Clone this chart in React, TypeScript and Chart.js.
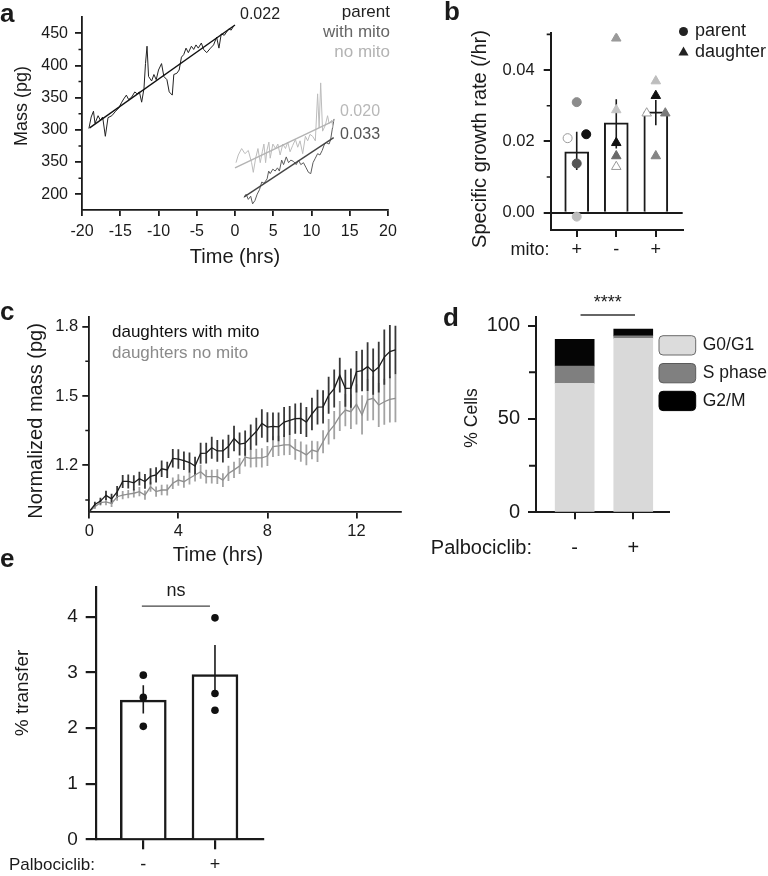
import React, { useEffect, useRef } from "react";
import { Chart, registerables } from "chart.js";

Chart.register(...registerables);

const W = 768;
const H = 876;
const FONT = "'Liberation Sans', Arial, Helvetica, sans-serif";
const INK = "#1a1a1a";

// ---------------- Panel a ----------------
const aParentTime = [-19.1, -18.8, -18.5, -18.3, -17.9, -17.6, -17.3, -16.95, -16.6, -16.1, -15.6, -15.2, -14.85, -14.55, -14.2, -13.9, -13.5, -13.1, -12.8, -12.5, -12.2, -11.9, -11.7, -11.5, -11.3, -10.9, -10.6, -10.3, -10.0, -9.6, -9.3, -8.9, -8.6, -8.2, -8.0, -7.6, -7.3, -7.0, -6.7, -6.4, -6.1, -5.7, -5.4, -5.1, -4.8, -4.4, -4.1, -3.7, -3.2, -2.8, -2.4, -2.1, -1.8, -1.4, -1.1, -0.8, -0.5, -0.2];
const aParentMass = [302, 320, 329, 310, 322, 315, 320, 290, 319, 322, 329, 334, 342, 348, 354, 347, 351, 359, 356, 359, 343, 364, 403, 430, 383, 376, 386, 378, 393, 403, 383, 378, 359, 354, 386, 388, 393, 413, 417, 427, 420, 430, 425, 432, 427, 435, 425, 420, 427, 432, 444, 427, 449, 447, 452, 457, 455, 461];
const aWithTime = [1.18, 1.45, 1.74, 2.05, 2.3, 2.6, 2.9, 3.2, 3.5, 3.8, 4.2, 4.4, 4.6, 4.95, 5.25, 5.55, 5.8, 6.1, 6.35, 6.7, 7.0, 7.3, 7.65, 8.0, 8.3, 8.6, 8.95, 9.3, 9.6, 9.9, 10.2, 10.5, 10.8, 11.1, 11.4, 11.7, 11.95, 12.3, 12.5, 12.7, 12.95];
const aWithMass = [195, 200, 192, 197, 185, 190, 200, 207, 219, 217, 224, 236, 232, 239, 236, 241, 236, 253, 246, 258, 249, 253, 251, 246, 253, 246, 249, 241, 234, 232, 249, 256, 263, 261, 268, 278, 280, 278, 285, 300, 317];
const aNoTime = [0.13, 0.43, 0.87, 1.3, 1.74, 2.17, 2.39, 2.7, 3.0, 3.3, 3.57, 3.78, 4.0, 4.17, 4.43, 4.6, 4.95, 5.3, 5.6, 5.9, 6.25, 6.6, 6.9, 7.2, 7.55, 7.9, 8.2, 8.5, 8.85, 9.2, 9.5, 9.8, 10.15, 10.5, 10.8, 11.0, 11.2, 11.45, 11.8, 12.1, 12.3, 12.65, 12.8];
const aNoMass = [249, 261, 271, 263, 268, 249, 234, 256, 271, 249, 266, 278, 249, 268, 281, 256, 278, 271, 278, 261, 278, 271, 281, 266, 276, 285, 273, 283, 263, 290, 283, 293, 290, 283, 356, 303, 373, 298, 307, 322, 310, 315, 303];
const aParentFitTime = [-19, 0];
const aParentFitMass = [303, 463];
const aWithFitTime = [1.2, 12.9];
const aWithFitMass = [196, 288];
const aNoFitTime = [0, 12.9];
const aNoFitMass = [241, 314];
const aXTicks = [-20, -15, -10, -5, 0, 5, 10, 15, 20];
const aXTickLabels = ["-20", "-15", "-10", "-5", "0", "5", "10", "15", "20"];
const aYTicks = [200, 250, 300, 350, 400, 450];
const aYTickLabels = ["200", "350", "300", "350", "400", "450"];
const aYMinor = [225, 275, 325, 375, 425];
const aLegend = ["parent", "with mito", "no mito"];
const aRates = ["0.022", "0.020", "0.033"];

// ---------------- Panel b ----------------
const bCategories = [1, 2, 3];
const bMitoLabels = ["+", "-", "+"];
const bMeans = [0.0171, 0.0252, 0.0283];
const bErrLow = [0.012, 0.018, 0.0245];
const bErrHigh = [0.0227, 0.0318, 0.0316];
const bParentX = [1, 0.77, 1.24, 1, 1];
const bParentY = [0.031, 0.0209, 0.022, 0.0138, -0.0011];
const bParentFill = ["#8c8c8c", "#ffffff", "#111111", "#555555", "#bdbdbd"];
const bParentEdge = ["#8c8c8c", "#9a9a9a", "#111111", "#555555", "#bdbdbd"];
const bDaughterX = [2, 2, 2, 2, 2, 3, 3, 2.77, 3.24, 3];
const bDaughterY = [0.0489, 0.0288, 0.0196, 0.0159, 0.0129, 0.0369, 0.0328, 0.0279, 0.0279, 0.0159];
const bDaughterFill = ["#9a9a9a", "#c4c4c4", "#111111", "#6a6a6a", "#ffffff", "#bdbdbd", "#111111", "#ffffff", "#7a7a7a", "#858585"];
const bDaughterEdge = ["#9a9a9a", "#c4c4c4", "#111111", "#6a6a6a", "#9a9a9a", "#bdbdbd", "#111111", "#9a9a9a", "#7a7a7a", "#858585"];
const bYTicks = [0, 0.02, 0.04];
const bYTickLabels = ["0.00", "0.02", "0.04"];
const bYMinor = [0.01, 0.03, 0.05];
const bLegend = ["parent", "daughter"];

// ---------------- Panel c ----------------
const cTime = [0, 0.25, 0.5, 0.75, 1, 1.25, 1.5, 1.75, 2, 2.25, 2.5, 2.75, 3, 3.25, 3.5, 3.75, 4, 4.25, 4.5, 4.75, 5, 5.25, 5.5, 5.75, 6, 6.25, 6.5, 6.75, 7, 7.25, 7.5, 7.75, 8, 8.25, 8.5, 8.75, 9, 9.25, 9.5, 9.75, 10, 10.25, 10.5, 10.75, 11, 11.25, 11.5, 11.75, 12, 12.25, 12.5, 12.75, 13, 13.25, 13.5, 13.75];
const cWithMito = [1.0, 1.03, 1.045, 1.07, 1.055, 1.085, 1.13, 1.13, 1.124, 1.142, 1.13, 1.152, 1.158, 1.185, 1.18, 1.23, 1.227, 1.22, 1.212, 1.197, 1.252, 1.253, 1.276, 1.262, 1.262, 1.282, 1.316, 1.292, 1.296, 1.322, 1.346, 1.381, 1.365, 1.368, 1.366, 1.387, 1.394, 1.402, 1.403, 1.387, 1.422, 1.452, 1.453, 1.503, 1.532, 1.59, 1.533, 1.534, 1.605, 1.61, 1.627, 1.605, 1.625, 1.668, 1.692, 1.699];
const cWithErr = [0, 0.012, 0.015, 0.02, 0.022, 0.025, 0.028, 0.03, 0.033, 0.03, 0.032, 0.035, 0.033, 0.036, 0.035, 0.04, 0.042, 0.04, 0.043, 0.04, 0.045, 0.045, 0.048, 0.047, 0.05, 0.05, 0.055, 0.05, 0.055, 0.055, 0.06, 0.062, 0.065, 0.06, 0.062, 0.065, 0.063, 0.065, 0.068, 0.065, 0.07, 0.075, 0.072, 0.08, 0.082, 0.075, 0.08, 0.085, 0.09, 0.09, 0.105, 0.1, 0.11, 0.12, 0.115, 0.105];
const cNoMito = [1.0, 1.021, 1.038, 1.042, 1.035, 1.064, 1.071, 1.075, 1.079, 1.086, 1.071, 1.107, 1.086, 1.093, 1.093, 1.122, 1.136, 1.129, 1.144, 1.158, 1.172, 1.151, 1.151, 1.151, 1.136, 1.165, 1.18, 1.197, 1.235, 1.23, 1.232, 1.232, 1.24, 1.281, 1.284, 1.288, 1.288, 1.269, 1.259, 1.245, 1.266, 1.259, 1.302, 1.345, 1.374, 1.413, 1.439, 1.432, 1.464, 1.418, 1.483, 1.49, 1.461, 1.475, 1.485, 1.49];
const cNoErr = [0, 0.01, 0.012, 0.015, 0.015, 0.017, 0.018, 0.018, 0.018, 0.02, 0.02, 0.022, 0.022, 0.023, 0.024, 0.025, 0.025, 0.026, 0.027, 0.028, 0.03, 0.03, 0.03, 0.032, 0.03, 0.033, 0.035, 0.035, 0.04, 0.04, 0.04, 0.042, 0.043, 0.045, 0.044, 0.045, 0.043, 0.045, 0.044, 0.045, 0.04, 0.045, 0.05, 0.055, 0.061, 0.065, 0.07, 0.075, 0.087, 0.085, 0.09, 0.095, 0.095, 0.1, 0.1, 0.104];
const cXTicks = [0, 4, 8, 12];
const cXTickLabels = ["0", "4", "8", "12"];
const cYTicks = [1.2, 1.5, 1.8];
const cYTickLabels = ["1.2", "1.5", "1.8"];
const cYMinor = [1.05, 1.35, 1.65];
const cLegend = ["daughters with mito", "daughters no mito"];

// ---------------- Panel d ----------------
const dCategories = [1, 2];
const dPalboLabels = ["-", "+"];
const dG0G1 = [69.1, 93.2];
const dSPhase = [9.3, 1.3];
const dG2M = [14.3, 3.6];
const dPhases = ["G0/G1", "S phase", "G2/M"];
const dYTicks = [0, 50, 100];
const dYTickLabels = ["0", "50", "100"];
const dYMinor = [25, 75];
const dSignif = "****";
const dSigLevel = 105.7;
const dSigFrom = 1.1;
const dSigTo = 2.03;

// ---------------- Panel e ----------------
const eCategories = [1, 2];
const ePalboLabels = ["-", "+"];
const eMeans = [2.5, 2.96];
const eErrLow = [2.26, 2.56];
const eErrHigh = [2.77, 3.49];
const ePointX = [1, 1, 1, 2, 2, 2];
const ePointY = [2.95, 2.55, 2.03, 3.98, 2.62, 2.32];
const eYTicks = [0, 1, 2, 3, 4];
const eYTickLabels = ["0", "1", "2", "3", "4"];
const eSignif = "ns";
const eSigLevel = 4.19;
const eSigFrom = 0.98;
const eSigTo = 1.93;

// ---------------- helpers ----------------
type Txt = {
  t: string; x: number; y: number; s: number; c?: string;
  a?: CanvasTextAlign; b?: boolean; r?: boolean; base?: CanvasTextBaseline;
};

function drawTexts(ctx: CanvasRenderingContext2D, items: Txt[]) {
  for (const it of items) {
    ctx.save();
    ctx.font = `${it.b ? "bold " : ""}${it.s}px ${FONT}`;
    ctx.fillStyle = it.c || INK;
    ctx.textAlign = it.a || "center";
    ctx.textBaseline = it.base || "middle";
    ctx.translate(it.x, it.y);
    if (it.r) ctx.rotate(-Math.PI / 2);
    ctx.fillText(it.t, 0, 0);
    ctx.restore();
  }
}

function drawMinor(chart: any, values: number[], len: number, width: number) {
  const ctx = chart.ctx;
  const s = chart.scales.y;
  const ca = chart.chartArea;
  ctx.save();
  ctx.strokeStyle = INK;
  ctx.lineWidth = width;
  ctx.beginPath();
  values.forEach((v) => {
    const p = s.getPixelForValue(v);
    ctx.moveTo(ca.left - len, p);
    ctx.lineTo(ca.left, p);
  });
  ctx.stroke();
  ctx.restore();
}

function drawErr(chart: any, xs: number[], lo: number[], hi: number[], color: string, width: number) {
  const ctx = chart.ctx;
  const sx = chart.scales.x;
  const sy = chart.scales.y;
  ctx.save();
  ctx.strokeStyle = color;
  ctx.lineWidth = width;
  ctx.beginPath();
  xs.forEach((x, i) => {
    const px = sx.getPixelForValue(x);
    ctx.moveTo(px, sy.getPixelForValue(lo[i]));
    ctx.lineTo(px, sy.getPixelForValue(hi[i]));
  });
  ctx.stroke();
  ctx.restore();
}

function hline(chart: any, from: number, to: number, level: number, color: string, width: number) {
  const ctx = chart.ctx;
  const sx = chart.scales.x;
  const sy = chart.scales.y;
  const y = sy.getPixelForValue(level);
  ctx.save();
  ctx.strokeStyle = color;
  ctx.lineWidth = width;
  ctx.beginPath();
  ctx.moveTo(sx.getPixelForValue(from), y);
  ctx.lineTo(sx.getPixelForValue(to), y);
  ctx.stroke();
  ctx.restore();
}

function baseOptions(area: number[], yW: number, xH: number) {
  const [l, t, r, b] = area;
  return {
    responsive: false,
    maintainAspectRatio: false,
    animation: false,
    devicePixelRatio: 1,
    events: [],
    layout: { autoPadding: false, padding: { left: l - yW, top: t, right: W - r, bottom: H - b - xH } },
    plugins: { legend: { display: false }, tooltip: { enabled: false } },
  };
}

function axis(o: {
  min: number; max: number; ticks: number[]; labels: string[]; size: number; tl: number; pad: number;
  bw: number; fit: number; vertical: boolean; zeroLine?: boolean; stacked?: boolean;
}) {
  return {
    type: "linear",
    min: o.min,
    max: o.max,
    offset: false,
    stacked: !!o.stacked,
    afterBuildTicks: (s: any) => {
      s.ticks = o.ticks.map((v) => ({ value: v }));
    },
    afterFit: (s: any) => {
      if (o.vertical) s.width = o.fit;
      else s.height = o.fit;
    },
    border: { display: true, color: INK, width: o.bw },
    grid: {
      display: true,
      offset: false,
      drawOnChartArea: !!o.zeroLine,
      drawTicks: true,
      tickLength: o.tl,
      color: (c: any) => (o.zeroLine && c.tick && c.tick.value === 0 ? INK : "rgba(0,0,0,0)"),
      tickColor: INK,
      lineWidth: o.bw,
      tickWidth: o.bw,
    },
    ticks: {
      autoSkip: false,
      maxRotation: 0,
      minRotation: 0,
      padding: o.pad,
      color: INK,
      font: { size: o.size, family: FONT },
      callback: (_v: any, i: number) => o.labels[i],
    },
  };
}

const pts = (xs: number[], ys: number[]) => xs.map((x, i) => ({ x, y: ys[i] }));

// ---------------- configs ----------------
function configA(): any {
  const line = (xs: number[], ys: number[], color: string, width: number, order: number) => ({
    type: "scatter",
    data: pts(xs, ys),
    showLine: true,
    borderColor: color,
    backgroundColor: color,
    borderWidth: width,
    pointRadius: 0,
    fill: false,
    tension: 0,
    order,
  });
  return {
    type: "scatter",
    data: {
      datasets: [
        line(aNoFitTime, aNoFitMass, "#b3b3b3", 1.4, 0),
        line(aWithFitTime, aWithFitMass, "#454545", 1.4, 0),
        line(aParentFitTime, aParentFitMass, "#111111", 1.4, 0),
        line(aNoTime, aNoMass, "#bcbcbc", 1, 1),
        line(aWithTime, aWithMass, "#5c5c5c", 1, 1),
        line(aParentTime, aParentMass, "#222222", 1, 1),
      ],
    },
    options: {
      ...baseOptions([82, 5, 388, 210], 60, 40),
      scales: {
        x: axis({ min: -20, max: 20, ticks: aXTicks, labels: aXTickLabels, size: 16, tl: 6, pad: 6, bw: 1.8, fit: 40, vertical: false }),
        y: axis({ min: 175.5, max: 476, ticks: aYTicks, labels: aYTickLabels, size: 16, tl: 7, pad: 7, bw: 1.8, fit: 60, vertical: true }),
      },
    },
    plugins: [
      {
        id: "panelA",
        afterDraw(chart: any) {
          drawMinor(chart, aYMinor, 3.5, 1.5);
          drawTexts(chart.ctx, [
            { t: "a", x: 0, y: 22, s: 26, b: true, a: "left", base: "alphabetic" },
            { t: "Mass (pg)", x: 22, y: 106, s: 18, r: true },
            { t: "Time (hrs)", x: 235, y: 257, s: 20 },
            { t: aLegend[0], x: 390, y: 12, s: 17, a: "right", c: "#222222" },
            { t: aLegend[1], x: 390, y: 32, s: 17, a: "right", c: "#666666" },
            { t: aLegend[2], x: 390, y: 52, s: 17, a: "right", c: "#b3b3b3" },
            { t: aRates[0], x: 240, y: 15, s: 16, a: "left", c: "#222222" },
            { t: aRates[1], x: 340, y: 112, s: 16, a: "left", c: "#b8b8b8" },
            { t: aRates[2], x: 340, y: 135, s: 16, a: "left", c: "#555555" },
          ]);
        },
      },
    ],
  };
}

function configB(): any {
  return {
    type: "bar",
    data: {
      datasets: [
        {
          type: "bar",
          data: pts(bCategories, bMeans),
          backgroundColor: "#ffffff",
          borderColor: INK,
          borderWidth: 2,
          barThickness: 24,
          order: 2,
        },
        {
          type: "scatter",
          data: pts(bParentX, bParentY),
          pointStyle: "circle",
          pointRadius: 4.5,
          pointBorderWidth: 1,
          pointBackgroundColor: bParentFill,
          pointBorderColor: bParentEdge,
          order: 1,
        },
        {
          type: "scatter",
          data: pts(bDaughterX, bDaughterY),
          pointStyle: "triangle",
          pointRadius: 5.5,
          pointBorderWidth: 1,
          pointBackgroundColor: bDaughterFill,
          pointBorderColor: bDaughterEdge,
          order: 1,
        },
      ],
    },
    options: {
      ...baseOptions([550.7, 33.3, 682.7, 230], 70, 40),
      scales: {
        x: axis({ min: 0.342, max: 3.68, ticks: bCategories, labels: bMitoLabels, size: 18, tl: 7, pad: 2, bw: 2, fit: 40, vertical: false }),
        y: axis({ min: -0.00485, max: 0.0503, ticks: bYTicks, labels: bYTickLabels, size: 16.5, tl: 7, pad: 9, bw: 2, fit: 70, vertical: true, zeroLine: true }),
      },
    },
    plugins: [
      {
        id: "panelB",
        afterDatasetDraw(chart: any, args: any) {
          if (args.meta.type === "bar") drawErr(chart, bCategories, bErrLow, bErrHigh, INK, 1.6);
        },
        afterDraw(chart: any) {
          const ctx = chart.ctx;
          drawMinor(chart, bYMinor, 4, 1.6);
          ctx.save();
          ctx.fillStyle = "#222222";
          ctx.beginPath();
          ctx.arc(683.5, 31.5, 4.5, 0, Math.PI * 2);
          ctx.fill();
          ctx.beginPath();
          ctx.moveTo(683.5, 46.5);
          ctx.lineTo(688.5, 55.5);
          ctx.lineTo(678.5, 55.5);
          ctx.closePath();
          ctx.fill();
          ctx.restore();
          drawTexts(ctx, [
            { t: "b", x: 444, y: 20, s: 26, b: true, a: "left", base: "alphabetic" },
            { t: "Specific growth rate (/hr)", x: 480, y: 139, s: 20, r: true },
            { t: "mito:", x: 530, y: 250, s: 18 },
            { t: bLegend[0], x: 695, y: 31.5, s: 18, a: "left" },
            { t: bLegend[1], x: 695, y: 52, s: 18, a: "left" },
          ]);
        },
      },
    ],
  };
}

function configC(): any {
  const withLo = cWithMito.map((v, i) => v - cWithErr[i]);
  const withHi = cWithMito.map((v, i) => v + cWithErr[i]);
  const noLo = cNoMito.map((v, i) => v - cNoErr[i]);
  const noHi = cNoMito.map((v, i) => v + cNoErr[i]);
  return {
    type: "scatter",
    data: {
      datasets: [
        { data: pts(cTime, cWithMito), showLine: true, borderColor: "#1c1c1c", borderWidth: 1.3, pointRadius: 0, order: 0 },
        { data: pts(cTime, cNoMito), showLine: true, borderColor: "#8f8f8f", borderWidth: 1.3, pointRadius: 0, order: 1 },
      ],
    },
    options: {
      ...baseOptions([89.3, 316.7, 401, 511.5], 60, 40),
      scales: {
        x: axis({ min: 0, max: 14, ticks: cXTicks, labels: cXTickLabels, size: 16.5, tl: 7, pad: 3, bw: 1.8, fit: 40, vertical: false }),
        y: axis({ min: 1.0, max: 1.843, ticks: cYTicks, labels: cYTickLabels, size: 16.5, tl: 7, pad: 4, bw: 1.8, fit: 60, vertical: true }),
      },
    },
    plugins: [
      {
        id: "panelC",
        beforeDatasetsDraw(chart: any) {
          drawErr(chart, cTime, noLo, noHi, "#a3a3a3", 1.8);
          drawErr(chart, cTime, withLo, withHi, "#383838", 1.8);
        },
        afterDraw(chart: any) {
          drawMinor(chart, cYMinor, 4, 1.5);
          drawTexts(chart.ctx, [
            { t: "c", x: 0, y: 320, s: 26, b: true, a: "left", base: "alphabetic" },
            { t: "Normalized mass (pg)", x: 36, y: 421, s: 20, r: true },
            { t: "Time (hrs)", x: 218, y: 555, s: 20 },
            { t: cLegend[0], x: 112, y: 332, s: 17, a: "left", c: "#111111" },
            { t: cLegend[1], x: 112, y: 353, s: 17, a: "left", c: "#8a8a8a" },
          ]);
        },
      },
    ],
  };
}

function configD(): any {
  const ds = (vals: number[], color: string) => ({
    type: "bar",
    data: pts(dCategories, vals),
    backgroundColor: color,
    borderWidth: 0,
    barThickness: 39,
  });
  return {
    type: "bar",
    data: { datasets: [ds(dG0G1, "#d9d9d9"), ds(dSPhase, "#7f7f7f"), ds(dG2M, "#050505")] },
    options: {
      ...baseOptions([536, 316.7, 669, 512.3], 70, 40),
      scales: {
        x: axis({ min: 0.34, max: 2.61, ticks: dCategories, labels: dPalboLabels, size: 20, tl: 7, pad: 17, bw: 2, fit: 40, vertical: false, stacked: true }),
        y: axis({ min: 0, max: 104.8, ticks: dYTicks, labels: dYTickLabels, size: 20, tl: 8, pad: 8, bw: 2, fit: 70, vertical: true, stacked: true }),
      },
    },
    plugins: [
      {
        id: "panelD",
        afterDraw(chart: any) {
          const ctx = chart.ctx;
          drawMinor(chart, dYMinor, 7, 2);
          hline(chart, dSigFrom, dSigTo, dSigLevel, "#333333", 1.3);
          const boxes = [
            { y: 335.7, fill: "#dcdcdc", edge: "#6a6a6a" },
            { y: 363.5, fill: "#808080", edge: "#5a5a5a" },
            { y: 391.3, fill: "#000000", edge: "#000000" },
          ];
          boxes.forEach((bx) => {
            const x = 659, w = 36.7, h = 19.3, r = 4;
            const y = bx.y;
            ctx.save();
            ctx.beginPath();
            ctx.moveTo(x + r, y);
            ctx.lineTo(x + w - r, y);
            ctx.arcTo(x + w, y, x + w, y + r, r);
            ctx.lineTo(x + w, y + h - r);
            ctx.arcTo(x + w, y + h, x + w - r, y + h, r);
            ctx.lineTo(x + r, y + h);
            ctx.arcTo(x, y + h, x, y + h - r, r);
            ctx.lineTo(x, y + r);
            ctx.arcTo(x, y, x + r, y, r);
            ctx.closePath();
            ctx.fillStyle = bx.fill;
            ctx.fill();
            ctx.strokeStyle = bx.edge;
            ctx.lineWidth = 1;
            ctx.stroke();
            ctx.restore();
          });
          const sx = chart.scales.x;
          const sy = chart.scales.y;
          drawTexts(ctx, [
            { t: "d", x: 443, y: 326, s: 26, b: true, a: "left", base: "alphabetic" },
            { t: "% Cells", x: 472, y: 418, s: 17.5, r: true },
            { t: "Palbociclib:", x: 532, y: 548, s: 20, a: "right" },
            { t: dSignif, x: sx.getPixelForValue((dSigFrom + dSigTo) / 2), y: sy.getPixelForValue(dSigLevel + 6.5), s: 18 },
            { t: dPhases[0], x: 702.7, y: 345.5, s: 17.5, a: "left" },
            { t: dPhases[1], x: 702.7, y: 373.2, s: 17.5, a: "left" },
            { t: dPhases[2], x: 702.7, y: 401, s: 17.5, a: "left" },
          ]);
        },
      },
    ],
  };
}

function configE(): any {
  return {
    type: "bar",
    data: {
      datasets: [
        {
          type: "bar",
          data: pts(eCategories, eMeans),
          backgroundColor: "#ffffff",
          borderColor: INK,
          borderWidth: 2.5,
          barThickness: 46,
          order: 2,
        },
        {
          type: "scatter",
          data: pts(ePointX, ePointY),
          pointStyle: "circle",
          pointRadius: 3.8,
          pointBorderWidth: 0,
          pointBackgroundColor: "#111111",
          order: 1,
        },
      ],
    },
    options: {
      ...baseOptions([95.7, 586.7, 263, 839.3], 70, 30),
      scales: {
        x: axis({ min: 0.336, max: 2.67, ticks: eCategories, labels: ePalboLabels, size: 18, tl: 10, pad: 5, bw: 2.2, fit: 30, vertical: false }),
        y: axis({ min: 0, max: 4.54, ticks: eYTicks, labels: eYTickLabels, size: 19, tl: 10, pad: 8, bw: 2.2, fit: 70, vertical: true }),
      },
    },
    plugins: [
      {
        id: "panelE",
        afterDatasetDraw(chart: any, args: any) {
          if (args.meta.type === "bar") drawErr(chart, eCategories, eErrLow, eErrHigh, INK, 1.6);
        },
        afterDraw(chart: any) {
          hline(chart, eSigFrom, eSigTo, eSigLevel, "#444444", 1.4);
          const sx = chart.scales.x;
          const sy = chart.scales.y;
          drawTexts(chart.ctx, [
            { t: "e", x: 0, y: 567, s: 26, b: true, a: "left", base: "alphabetic" },
            { t: "% transfer", x: 23, y: 693, s: 19, r: true },
            { t: "Palbociclib:", x: 95, y: 865, s: 17, a: "right" },
            { t: eSignif, x: sx.getPixelForValue((eSigFrom + eSigTo) / 2), y: sy.getPixelForValue(eSigLevel + 0.28), s: 18 },
          ]);
        },
      },
    ],
  };
}

function Panel({ make }: { make: () => any }) {
  const ref = useRef<HTMLCanvasElement | null>(null);
  useEffect(() => {
    if (!ref.current) return;
    const chart = new Chart(ref.current, make());
    return () => chart.destroy();
  }, [make]);
  return (
    <canvas
      ref={ref}
      width={W}
      height={H}
      style={{ position: "absolute", left: 0, top: 0, width: W, height: H, display: "block" }}
    />
  );
}

export default function App() {
  Chart.defaults.font.family = FONT;
  Chart.defaults.color = INK;
  return (
    <div style={{ position: "absolute", left: 0, top: 0, width: W, height: H, background: "#ffffff", overflow: "hidden" }}>
      <Panel make={configA} />
      <Panel make={configB} />
      <Panel make={configC} />
      <Panel make={configD} />
      <Panel make={configE} />
    </div>
  );
}
